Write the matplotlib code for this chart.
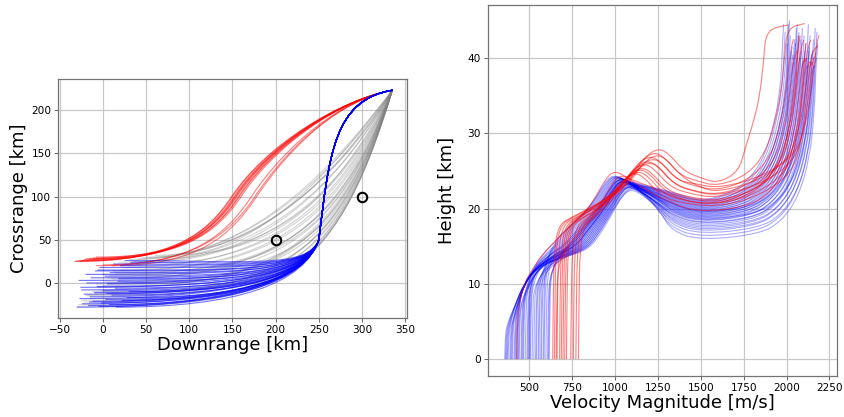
import numpy as np
import matplotlib
matplotlib.use("Agg")
import matplotlib.pyplot as plt
from matplotlib.path import Path
from matplotlib.patches import PathPatch

# ---------------- left panel: ground track ----------------
end_x, end_y = 335, 223          # common final point [km]
mark_x = [200, 300]
mark_y = [50, 100]

red_x0 = [-33, -31, -28, -25, -22, -20, -16, -12, -8, -8, 0, 10]
red_y0 = [25, 25, 26, 26, 27, 28, 28, 29, 30, 20, 21, 20]
red_x100 = [150, 152, 155, 154, 158, 149, 160, 153, 157, 176, 172, 178]   # downrange where crossrange = 100

gray_x0 = [-28, -22, -15, -10, -5, 0, 5, 10, 15, 20, 25, 30, 40, 50, 60, -25, -18, -12,
           -6, 2, 8, 14, 22, 35, 45, -30, -20, -8, 4, 12, 28, 55, 70, 85, 18, -2]
gray_y0 = [-25, -22, -18, -12, -8, -3, 0, 5, 10, 15, 22, 27, 28, 30, 32, -20, -15, -10,
           -5, 2, 8, 12, 18, 25, 29, -27, -14, -1, 6, 14, 20, 26, 30, 33, 24, 10]
gray_y300 = [124, 128, 126, 135, 130, 140, 133, 150, 138, 155, 165, 176, 182, 186, 180, 122, 131, 127,
             142, 136, 148, 145, 160, 172, 178, 120, 134, 139, 144, 152, 158, 174, 185, 170, 162, 146]

blue_x0 = [-30, -28, -27, -25, -24, -22, -20, -19, -17, -15, -14, -12, -10, -9, -7, -5, -4, -2, 0, 2,
           3, 5, 7, 8, 10, 12, 14, 15, 17, 20, 22, 25, 28, 30, 32, -26, -16, -6, 4, 18]
blue_y0 = [-28, 3, -18, -8, -24, -13, 10, 0, -26, -16, 6, -21, -11, 14, -4, -27, 18, -23, -9, 8,
           -19, -1, -25, 12, -14, 22, -6, -28, 2, 20, -20, 26, -17, -10, 24, -5, -22, 15, -12, 5]

# ---------------- right panel: height vs velocity ----------------
low_v = [380, 420, 470]                       # common low-altitude branch
low_h = [5.0, 7.3, 10.0]
early_v = [520, 580, 650, 714, 850]           # branch of runs with an early hump
early_h = [12.0, 14.0, 15.6, 17.2, 20.0]
late_v = [560, 700, 850, 930, 1000]           # branch of runs with a late hump
late_h = [12.3, 13.5, 14.6, 17.2, 20.0]

b_hmin = [15.8, 16.2, 16.6, 16.9, 17.1, 17.3, 17.5, 17.7, 17.9, 18.0, 18.2, 18.3, 18.4, 18.6, 18.7,
          18.8, 18.9, 19.0, 19.1, 19.2, 19.3, 19.4, 19.5, 19.6, 19.7, 19.8, 19.9, 20.0, 20.1, 20.2,
          20.3, 20.4, 20.5, 20.6, 20.7, 20.8, 20.9, 21.0, 18.5, 19.4]
b_vrise = [2170, 2160, 2165, 2150, 2155, 2140, 2145, 2130, 2125, 2135, 2115, 2120, 2100, 2110, 2090,
           2105, 2080, 2095, 2070, 2085, 2060, 2075, 2050, 2065, 2040, 2055, 2030, 2045, 2020, 2035,
           2010, 2025, 2000, 2015, 1990, 2005, 1980, 1970, 2150, 2120]
b_htop = [42, 40, 43.5, 39, 44, 41, 42.5, 39.5, 43, 40.5, 44.5, 41.5, 42, 39, 43, 40, 44, 41, 42.5, 39.5,
          43.5, 41, 44.5, 40, 42, 43, 39.5, 44, 41.5, 42.5, 43, 40.5, 44.5, 41, 42, 45, 43.5, 44.5, 39, 41]
b_humpv = [1100, 1085, 1095, 1070, 1090, 1060, 1080, 1095, 1045, 1065, 1075, 1030, 1070, 1050, 1090,
           1040, 1060, 1080, 1020, 1045, 1065, 1035, 1055, 1010, 1060, 1040, 1075, 1025, 1050, 1000,
           1035, 1060, 1015, 1045, 995, 1030, 1050, 1005, 1085, 1055]
b_humph = [22.8, 23.0, 22.6, 23.4, 23.1, 23.6, 23.2, 22.9, 23.8, 23.3, 23.0, 24.0, 23.5, 23.7, 23.1,
           24.1, 23.6, 23.4, 24.2, 23.8, 23.5, 24.0, 23.7, 24.3, 23.6, 23.9, 23.4, 24.2, 23.8, 24.4,
           24.0, 23.7, 24.3, 23.9, 24.5, 24.1, 23.8, 24.4, 23.2, 23.9]
b_vend = [470, 395, 560, 430, 610, 380, 505, 455, 590, 360, 520, 415, 575, 440, 495, 620, 405, 545,
          465, 370, 530, 425, 600, 480, 390, 555, 445, 510, 365, 585, 435, 540, 400, 615, 460, 500,
          375, 570, 490, 420]

r_vend = [700, 760, 680, 745, 650, 720, 790, 690, 775, 665, 710, 640]
r_humpv = [1250, 1225, 1200, 1185, 1165, 1150, 1130, 1240, 1195, 1140, 1110, 1215]
r_humph = [28.0, 27.5, 27.0, 26.4, 26.0, 25.5, 25.0, 27.2, 26.2, 25.3, 24.8, 26.7]
r_hmin = [23.4, 23.0, 22.4, 21.8, 21.4, 21.0, 20.5, 22.2, 21.7, 20.8, 20.2, 22.7]
r_vrise = [1867, 1988, 2017, 2040, 2075, 2095, 2114, 2130, 2153, 2060, 2140, 2165]
r_vtop = [2008, 2105, 2040, 2060, 2100, 2110, 2141, 2150, 2170, 2080, 2180, 2190]
r_htop = [44.4, 44.6, 42.5, 41.0, 42.4, 40.0, 42.4, 39.5, 40.7, 43.0, 41.6, 43.1]

# red runs that follow the blue-type profile
rb_vend = [430, 660]
rb_hmin = [19.5, 20.5]
rb_vrise = [2100, 2060]
rb_htop = [42, 43]
rb_humpv = [1000, 1040]
rb_humph = [25.0, 24.5]


def bezier(pts):
    codes = [Path.MOVETO] + [Path.CURVE4] * (len(pts) - 1)
    return Path(pts, codes)


def smooth(nodes):
    p = np.asarray(nodes, dtype=float)
    verts = [p[0], (p[0] + p[1]) / 2]
    codes = [Path.MOVETO, Path.LINETO]
    for i in range(1, len(p) - 1):
        verts += [p[i], (p[i] + p[i + 1]) / 2]
        codes += [Path.CURVE3, Path.CURVE3]
    verts.append(p[-1])
    codes.append(Path.LINETO)
    return Path(verts, codes)


def draw(ax, path, color, alpha, lw=0.8):
    ax.add_patch(PathPatch(path, facecolor="none", edgecolor=color, alpha=alpha, lw=lw))


def blue_nodes(ve, hmin, vr, htop, hv, hh):
    s = np.clip((hv - 1000) / 100, 0, 1)
    mv = low_v + [a + (b - a) * s for a, b in zip(early_v, late_v)]
    mh = low_h + [a + (b - a) * s for a, b in zip(early_h, late_h)]
    he = np.interp(ve, mv, mh)
    nodes = [(ve - 3, 0), (ve, he * 0.5), (ve + 8, he * 0.9)]
    nodes += [(v, h) for v, h in zip(mv, mh) if v > ve + 30]
    nodes += [(hv - 50, hh - 0.8), (hv, hh),
              (hv + 60, hh - 0.7), (hv + 160, (hh + hmin) / 2 + 0.5), (1330, hmin + 1.2),
              (1500, hmin), (vr - 330, hmin + 0.8), (vr - 200, hmin + 2.5),
              (vr - 100, hmin + 5.8), (vr - 35, hmin + 11), (vr - 8, min(hmin + 17, 36)),
              (vr, 38.5), (vr + 12, htop)]
    return nodes


def red_nodes(ve, hmin, vr, vtop, htop, hv, hh):
    uv = min(1600, vr - 250)
    nodes = [(ve - 3, 0), (ve, 8), (ve + 6, 15), (ve + 35, 17.8), (ve + 90, 18.7),
             (hv - 180, hh - 4.5), (hv - 70, hh - 1), (hv, hh), (hv + 60, hh - 0.6),
             (hv + 150, hh - 3), (hv + 260, hmin + 0.6), (uv, hmin),
             (uv + (vr - uv) * 0.45, hmin + 1.5), (vr - 110, hmin + 4.5), (vr - 55, hmin + 8.5),
             (vr - 20, 35.5), (vr, 40), (vr + 15, htop - 0.6), (vtop, htop)]
    return nodes


fig = plt.figure(figsize=(8.44, 4.17), dpi=100)
ax1 = fig.add_axes([58.3 / 844, 1 - 318 / 417, 348.7 / 844, 239 / 417])
ax2 = fig.add_axes([487.7 / 844, 1 - 375.7 / 417, 349 / 844, 371 / 417])

# left panel
for x0, y0, y300 in zip(gray_x0, gray_y0, gray_y300):
    k = np.clip((185 - y300) / 60, 0, 1)
    a = 0.45 + 0.17 * k
    draw(ax1, bezier([(x0, y0), (x0 + a * (end_x - x0), y0), (275 - 10 * k, 145 - 155 * k),
                      (end_x, end_y)]), "gray", 0.35)

for x0, y0, x100 in zip(red_x0, red_y0, red_x100):
    draw(ax1, bezier([(x0, y0), (x0 + 0.6 * (x100 - x0), y0), (x100 - 30, 55), (x100, 100),
                      (x100 + 40, 160), (275, 212), (end_x, end_y)]), "red", 0.5)

for x0, y0 in zip(blue_x0, blue_y0):
    p2y = 0.3 * y0 + 8
    draw(ax1, bezier([(x0, y0), (x0 + 0.6 * (250 - x0), y0), (236 + 0.1 * y0, p2y), (250, 50),
                      (262, 150), (268, 212), (end_x, end_y)]), "blue", 0.55)

ax1.plot(mark_x, mark_y, "o", mfc="none", mec="black", ms=6.8, mew=1.5, zorder=5)
ax1.set_xlim(-51.5, 352)
ax1.set_ylim(-40.5, 236)
ax1.set_xticks(np.arange(-50, 351, 50))
ax1.set_yticks(np.arange(0, 201, 50))
ax1.set_xlabel("Downrange [km]", fontsize=13, labelpad=1)
ax1.set_ylabel("Crossrange [km]", fontsize=13, labelpad=2)

# right panel
for prm in zip(b_vend, b_hmin, b_vrise, b_htop, b_humpv, b_humph):
    draw(ax2, smooth(blue_nodes(*prm)), "blue", 0.33)
for prm in zip(r_vend, r_hmin, r_vrise, r_vtop, r_htop, r_humpv, r_humph):
    draw(ax2, smooth(red_nodes(*prm)), "red", 0.5)
for prm in zip(rb_vend, rb_hmin, rb_vrise, rb_htop, rb_humpv, rb_humph):
    draw(ax2, smooth(blue_nodes(*prm)), "red", 0.5)

ax2.set_xlim(258, 2292)
ax2.set_ylim(-2.2, 47.1)
ax2.set_xticks(np.arange(500, 2251, 250))
ax2.set_yticks(np.arange(0, 41, 10))
ax2.set_xlabel("Velocity Magnitude [m/s]", fontsize=13, labelpad=1)
ax2.set_ylabel("Height [km]", fontsize=13, labelpad=8)

for ax in (ax1, ax2):
    ax.grid(True, color="#c8c8c8", lw=0.9)
    ax.set_axisbelow(True)
    ax.tick_params(labelsize=7.6, length=3, width=0.6, color="0.3", pad=2)
    for s in ax.spines.values():
        s.set_color("0.45")
        s.set_linewidth(0.9)

fig.savefig("out.png", dpi=100)
